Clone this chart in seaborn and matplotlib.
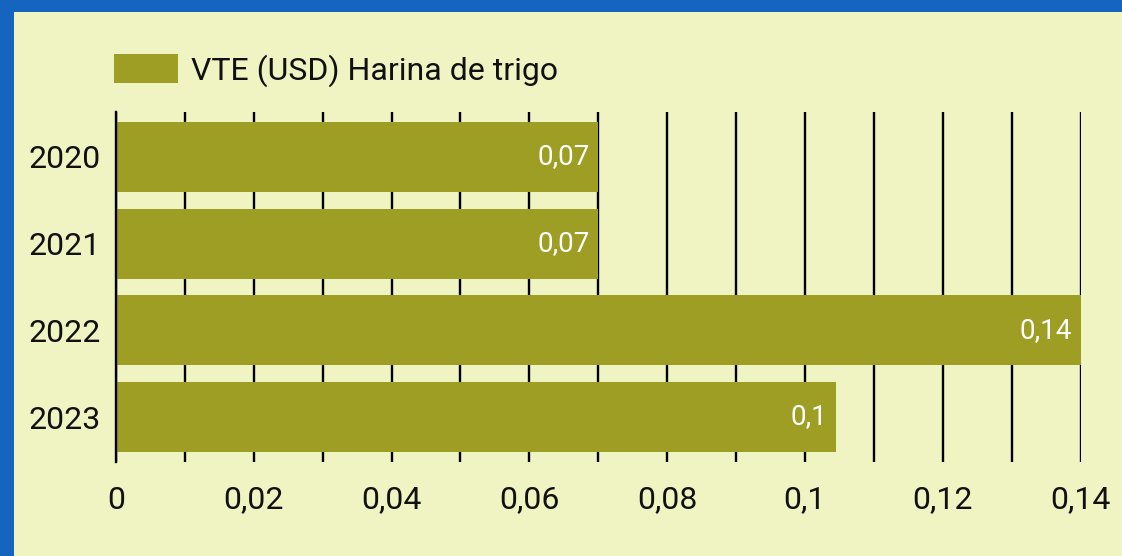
import matplotlib
matplotlib.use("Agg")
import matplotlib.pyplot as plt
import seaborn as sns
import pandas as pd
from matplotlib.patches import Patch, Rectangle
from matplotlib.ticker import MultipleLocator, FixedLocator, FixedFormatter

# ---- data ----
years = ["2020", "2021", "2022", "2023"]
values = [0.07, 0.07, 0.14, 0.1045]
value_labels = ["0,07", "0,07", "0,14", "0,1"]
x_ticks = [0, 0.02, 0.04, 0.06, 0.08, 0.1, 0.12, 0.14]
x_tick_labels = ["0", "0,02", "0,04", "0,06", "0,08", "0,1", "0,12", "0,14"]
series_name = "VTE (USD) Harina de trigo"

BG = "#F0F4C3"
BLUE = "#1565C0"
BAR = "#9E9D24"

sns.set_theme(style="white")
plt.rcParams["font.family"] = ["Roboto", "DejaVu Sans"]

W, H = 1122, 556
fig = plt.figure(figsize=(W / 100, H / 100), dpi=100)
fig.patch.set_facecolor(BLUE)
fig.patches.append(Rectangle((14 / W, 0), 1 - 14 / W, 1 - 12 / H,
                             transform=fig.transFigure, facecolor=BG,
                             edgecolor="none", zorder=-10))

ax = fig.add_axes([116 / W, 1 - 462 / H, (1080.5 - 116) / W, 350 / H])
ax.set_facecolor("none")

df = pd.DataFrame({"year": years, "value": values})
sns.barplot(data=df, x="value", y="year", orient="h", color=BAR,
            saturation=1, width=0.808, ax=ax, zorder=3,
            edgecolor="none", linewidth=0)

ax.set_xlim(0, 0.14)
ax.set_ylim(3.519, -0.519)

ax.xaxis.set_major_locator(FixedLocator(x_ticks))
ax.xaxis.set_major_formatter(FixedFormatter(x_tick_labels))
ax.xaxis.set_minor_locator(MultipleLocator(0.01))
ax.set_axisbelow(True)
ax.grid(True, axis="x", which="both", color="black", linewidth=1.7)
ax.grid(False, axis="y")

for name, s in ax.spines.items():
    s.set_visible(False)
ax.spines["left"].set_visible(True)
ax.spines["left"].set_color("black")
ax.spines["left"].set_linewidth(1.7)
ax.spines["left"].set_zorder(5)

ax.tick_params(axis="x", which="both", length=0, pad=17, labelsize=23,
               labelcolor="#111111")
ax.tick_params(axis="y", length=0, pad=11, labelsize=23, labelcolor="#111111")
ax.set_xlabel("")
ax.set_ylabel("")

texts = ax.bar_label(ax.containers[0], labels=value_labels, padding=-6,
                     color="white", fontsize=20)
for t in texts:
    t.set_ha("right")

fig.legend(handles=[Patch(facecolor=BAR, edgecolor="none", label=series_name)],
           loc="center left", bbox_to_anchor=(114 / W, 1 - 70.5 / H),
           bbox_transform=fig.transFigure, frameon=False, fontsize=23,
           borderpad=0, borderaxespad=0, handlelength=2.0, handleheight=1.03,
           handletextpad=0.4, labelcolor="#111111")

fig.savefig("out.png", dpi=100, facecolor=fig.get_facecolor())
